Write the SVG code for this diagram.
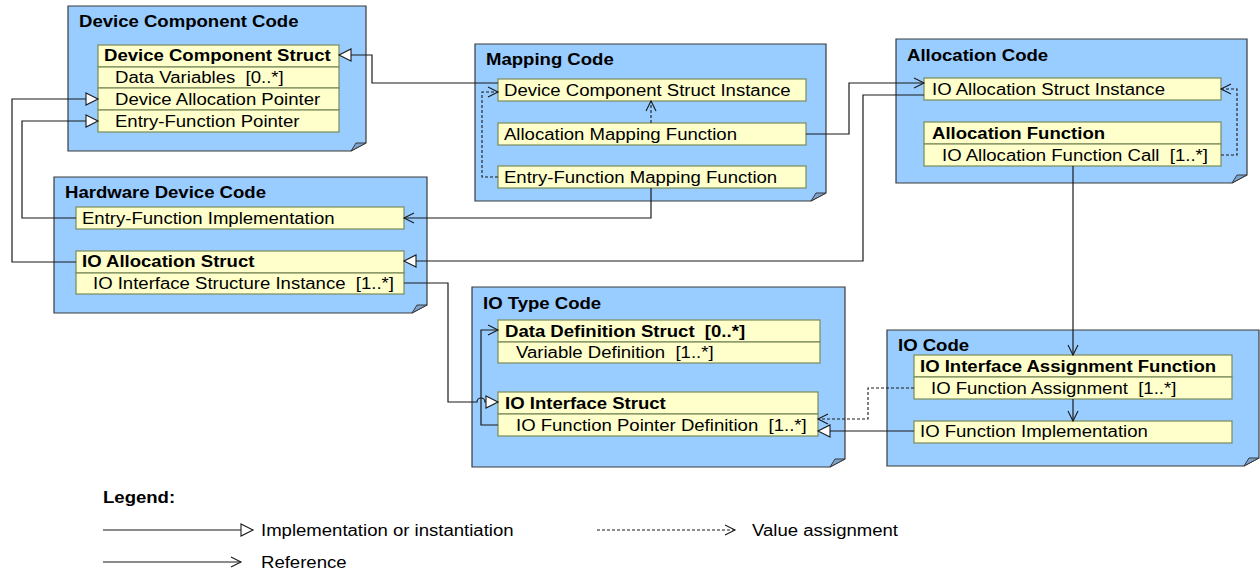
<svg xmlns="http://www.w3.org/2000/svg" width="1260" height="573" viewBox="0 0 1260 573">
<style>
text{font-family:"Liberation Sans",Arial,sans-serif;font-size:16px;fill:#000;transform-box:fill-box;transform-origin:0 50%;transform:scaleX(1.16);white-space:pre}
.b{font-weight:bold}
.pkg{fill:#99CCFF;stroke:#3a3a3a;stroke-width:1.2}
.fold{fill:#7DA3CC;stroke:#3a3a3a;stroke-width:1}
.row{fill:#FFFFCC;stroke:#7A8A5A;stroke-width:1.2}
.c{fill:none;stroke:#1a1a1a;stroke-width:1.2}
.d{fill:none;stroke:#1a1a1a;stroke-width:1.1;stroke-dasharray:3,2}
.imp{marker-end:url(#tri)}
.ref{marker-end:url(#vee)}
</style>
<defs>
<marker id="tri" markerUnits="userSpaceOnUse" markerWidth="14" markerHeight="14" refX="12" refY="6" orient="auto" overflow="visible">
<path d="M0,0 L12,6 L0,12 Z" fill="#fff" stroke="#1a1a1a" stroke-width="1.1"/>
</marker>
<marker id="vee" markerUnits="userSpaceOnUse" markerWidth="12" markerHeight="12" refX="10" refY="5" orient="auto" overflow="visible">
<path d="M0,0 L10,5 L0,10" fill="none" stroke="#1a1a1a" stroke-width="1.1"/>
</marker>
</defs>
<rect width="1260" height="573" fill="#fff"/>

<g id="device-component-code">
<polygon class="pkg" points="68,6 366,6 366,143 351,151 68,151"/>
<polygon class="fold" points="351,151 356,143 366,143"/>
<text class="b" x="79" y="27">Device Component Code</text>
<rect class="row" x="98" y="45" width="241" height="22"/>
<rect class="row" x="98" y="67" width="241" height="21"/>
<rect class="row" x="98" y="88" width="241" height="22"/>
<rect class="row" x="98" y="110" width="241" height="22"/>
<text class="b" x="104" y="61">Device Component Struct</text>
<text x="115" y="83">Data Variables  [0..*]</text>
<text x="115" y="105">Device Allocation Pointer</text>
<text x="115" y="127">Entry-Function Pointer</text>
</g>

<g id="mapping-code">
<polygon class="pkg" points="475,44 826,44 826,193 811,201 475,201"/>
<polygon class="fold" points="811,201 816,193 826,193"/>
<text class="b" x="486" y="65">Mapping Code</text>
<rect class="row" x="498" y="79" width="308" height="22"/>
<rect class="row" x="498" y="123" width="308" height="22"/>
<rect class="row" x="498" y="166" width="308" height="22"/>
<text x="504" y="96">Device Component Struct Instance</text>
<text x="504" y="140">Allocation Mapping Function</text>
<text x="504" y="183">Entry-Function Mapping Function</text>
</g>

<g id="allocation-code">
<polygon class="pkg" points="896,39 1247,39 1247,175 1232,183 896,183"/>
<polygon class="fold" points="1232,183 1237,175 1247,175"/>
<text class="b" x="907" y="61">Allocation Code</text>
<rect class="row" x="924" y="78" width="297" height="22"/>
<text x="932" y="95">IO Allocation Struct Instance</text>
<rect class="row" x="924" y="122" width="297" height="22"/>
<rect class="row" x="924" y="144" width="297" height="22"/>
<text class="b" x="932" y="139">Allocation Function</text>
<text x="942" y="161">IO Allocation Function Call  [1..*]</text>
</g>

<g id="hardware-device-code">
<polygon class="pkg" points="54,177 427,177 427,305 412,313 54,313"/>
<polygon class="fold" points="412,313 417,305 427,305"/>
<text class="b" x="65" y="198">Hardware Device Code</text>
<rect class="row" x="76" y="207" width="328" height="22"/>
<text x="82" y="224">Entry-Function Implementation</text>
<rect class="row" x="76" y="251" width="328" height="22"/>
<rect class="row" x="76" y="273" width="328" height="21"/>
<text class="b" x="82" y="267">IO Allocation Struct</text>
<text x="93" y="289">IO Interface Structure Instance  [1..*]</text>
</g>

<g id="io-type-code">
<polygon class="pkg" points="472,287 845,287 845,459 830,467 472,467"/>
<polygon class="fold" points="830,467 835,459 845,459"/>
<text class="b" x="483" y="309">IO Type Code</text>
<rect class="row" x="498" y="320" width="322" height="22"/>
<rect class="row" x="498" y="342" width="322" height="21"/>
<text class="b" x="505" y="337">Data Definition Struct  [0..*]</text>
<text x="516" y="358">Variable Definition  [1..*]</text>
<rect class="row" x="498" y="392" width="320" height="22"/>
<rect class="row" x="498" y="414" width="320" height="22"/>
<text class="b" x="505" y="409">IO Interface Struct</text>
<text x="516" y="431">IO Function Pointer Definition  [1..*]</text>
</g>

<g id="io-code">
<polygon class="pkg" points="887,330 1259,330 1259,458 1244,466 887,466"/>
<polygon class="fold" points="1244,466 1249,458 1259,458"/>
<text class="b" x="898" y="351">IO Code</text>
<rect class="row" x="914" y="355" width="318" height="22"/>
<rect class="row" x="914" y="377" width="318" height="22"/>
<text class="b" x="920" y="372">IO Interface Assignment Function</text>
<text x="931" y="394">IO Function Assignment  [1..*]</text>
<rect class="row" x="914" y="421" width="318" height="22"/>
<text x="920" y="437">IO Function Implementation</text>
</g>

<g id="connectors">
<path class="c imp" d="M498,83 H372 V55 H339"/>
<path class="c ref" d="M806,134 H849 V83 H924"/>
<path class="c imp" d="M924,95 H863 V261 H404"/>
<path class="c ref" d="M651,188 V218 H404"/>
<path class="c imp" d="M76,218 H22 V121 H98"/>
<path class="c imp" d="M76,262 H12 V99 H98"/>
<path class="c imp" d="M404,283 H448 V402 H477 A4,4 0 0 1 485,402 H498"/>
<path class="c ref" d="M498,425 H481 V330 H498"/>
<path class="c ref" d="M1073,166 V355"/>
<path class="c ref" d="M1073,399 V421"/>
<path class="d ref" d="M914,388 H868 V419 H818"/>
<path class="c imp" d="M914,431 H818"/>
<path class="d ref" d="M498,177 H482 V92 H498"/>
<path class="d ref" d="M651,123 V101"/>
<path class="d ref" d="M1221,155 H1237 V89 H1221"/>
</g>

<g id="legend">
<text class="b" x="103" y="503">Legend:</text>
<path class="c imp" d="M103,530 H253"/>
<text x="261" y="536">Implementation or instantiation</text>
<path class="d ref" d="M597,530 H735"/>
<text x="752" y="536">Value assignment</text>
<path class="c ref" d="M103,562 H241"/>
<text x="261" y="568">Reference</text>
</g>
</svg>
